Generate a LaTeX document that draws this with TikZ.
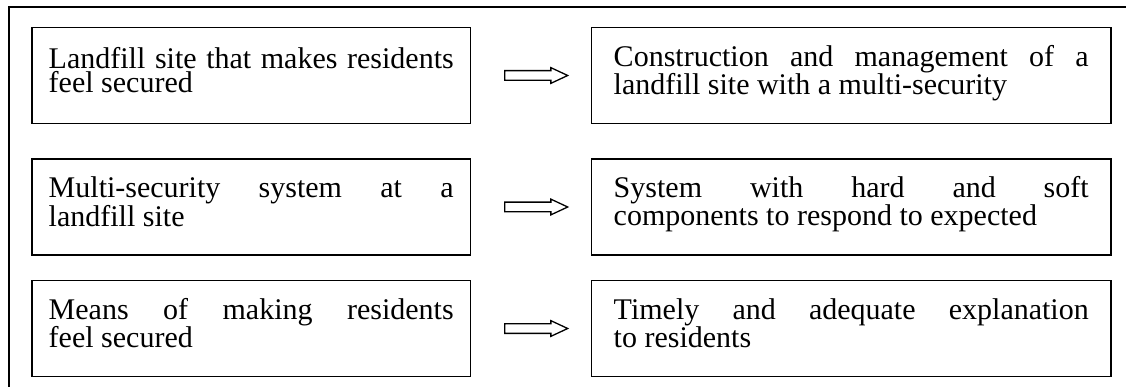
\documentclass[tikz,border=0pt]{standalone}
\usepackage{fontspec}
\setmainfont{Liberation Serif}
\usetikzlibrary{matrix,shapes.arrows}
\tolerance=10000
\hbadness=10000
\hyphenpenalty=10000
\exhyphenpenalty=10000
\lineskiplimit=-16000pt
\newcommand\topstrut{\leavevmode\vrule width 0pt height 21pt depth 0pt\relax}
\newcommand\botstrut{\vrule width 0pt height 0pt depth 11.5pt\relax}
\newcommand\boxfont{\fontsize{30}{24.5}\selectfont}

\begin{document}
\begin{tikzpicture}[x=1pt,y=-1pt,
		fatarrow/.style={draw,line width=1.3pt,single arrow,single arrow head extend=3pt,
			single arrow tip angle=50,inner sep=0pt,inner ysep=4.2pt,minimum height=63pt}]
	\useasboundingbox (0,0) rectangle (1126,387);
	\draw[line width=1.5pt] (9,387) |- (1126,7);
	\matrix (m) [matrix of nodes,row sep=24pt,column sep=120pt,inner sep=0pt,
		nodes={draw,line width=1.5pt,anchor=center,align=justify,inner xsep=0pt,minimum height=96pt,
			font=\boxfont,
			execute at begin node=\topstrut,
			execute at end node=\botstrut},
		column 1/.style={nodes={text width=405pt,minimum width=438pt}},
		column 2/.style={nodes={text width=475pt,minimum width=519pt}}] at (571.5,202)
	{
		Landfill site that makes residents\linebreak feel secured &
		\parfillskip=0pt Construction and management of a\linebreak landfill site with a multi-security \\[10pt]
		Multi-security system at a\linebreak landfill site &
		\parfillskip=0pt System with hard and soft\linebreak components to respond to expected \\
		Means of making residents\linebreak feel secured &
		Timely and adequate explanation\linebreak to residents \\
	};
	
	\path
	(m-1-1) edge[draw=none] node[fatarrow] (a1) {} (m-1-2)
	(m-2-1) edge[draw=none] node[fatarrow] (a2) {} (m-2-2)
	(m-3-1) edge[draw=none] node[fatarrow] (a3) {} (m-3-2);
\end{tikzpicture}
\end{document}
